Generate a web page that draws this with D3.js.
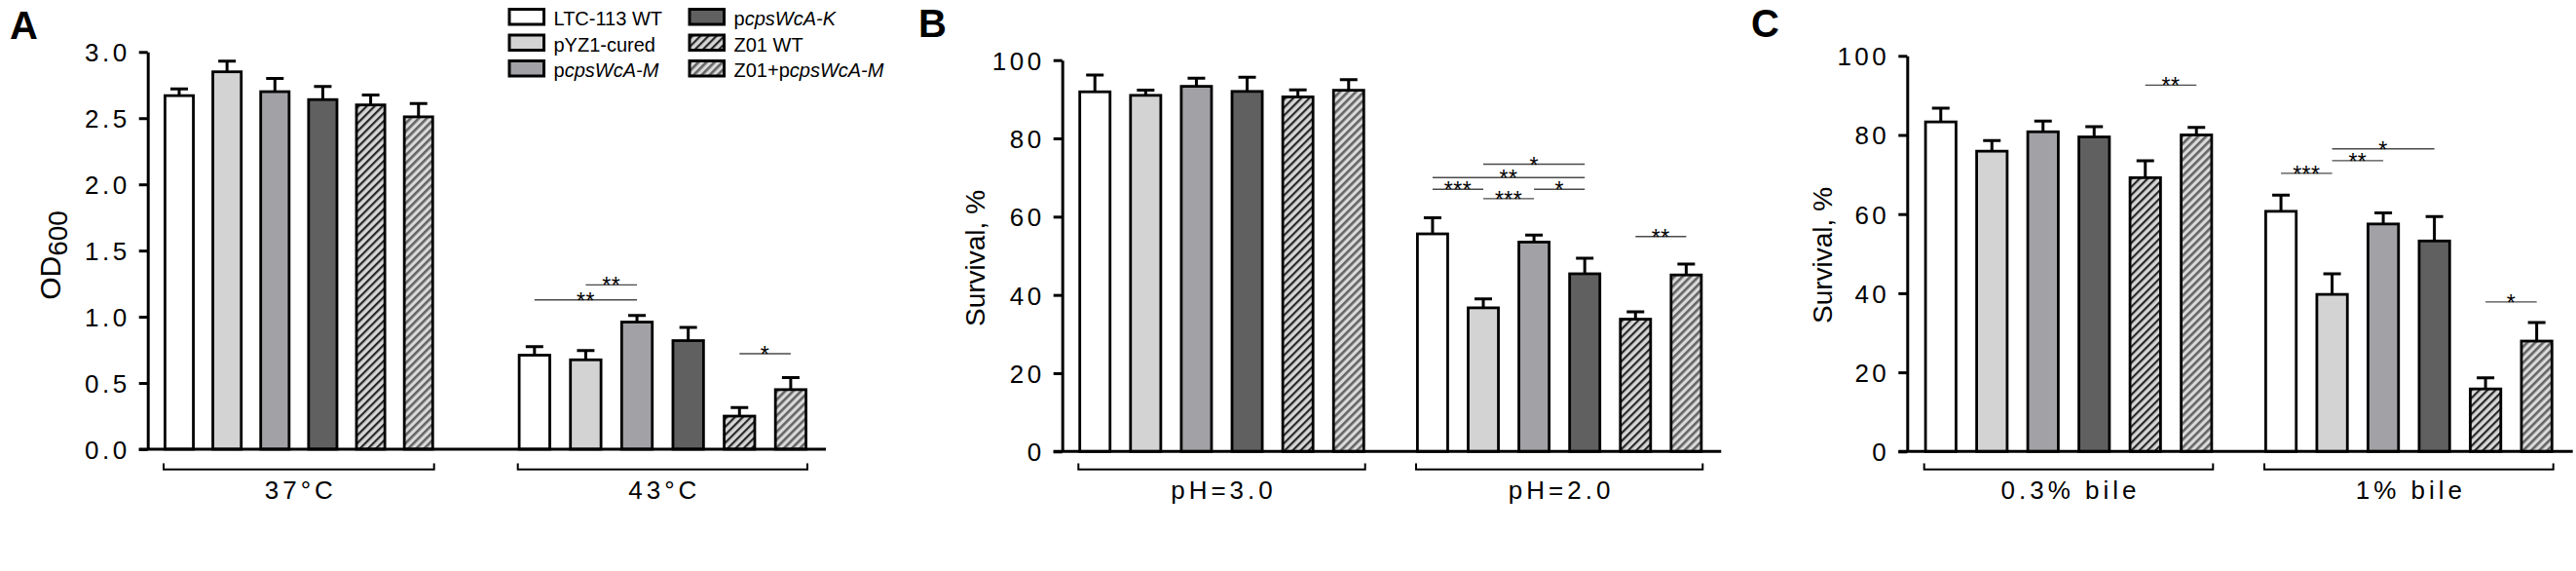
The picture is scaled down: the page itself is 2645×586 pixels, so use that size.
<!DOCTYPE html>
<html><head><meta charset="utf-8">
<script src="https://cdn.jsdelivr.net/npm/d3@7/dist/d3.min.js"></script>
<style>body{margin:0;background:#fff}svg{display:block}</style>
</head><body>
<svg id="chart" width="2645" height="586"></svg>
<script>
// ---------------- data ----------------
const strains = ["LTC-113 WT","pYZ1-cured","pcpsWcA-M","pcpsWcA-K","Z01 WT","Z01+pcpsWcA-M"];

const groupsA = ["37°C","43°C"];
const meanA = [[2.67,2.85,2.70,2.64,2.60,2.51],[0.71,0.675,0.96,0.82,0.25,0.45]];
const errA  = [[0.05,0.08,0.10,0.10,0.075,0.10],[0.065,0.07,0.05,0.10,0.065,0.09]];
const ticksA = [0,0.5,1.0,1.5,2.0,2.5,3.0];
// significance: [group, barFrom, barTo, level(y value), label]
const sigA = [[1,0,2,1.128,"**"],[1,1,2,1.241,"**"],[1,4,5,0.721,"*"]];

const groupsB = ["pH=3.0","pH=2.0"];
const meanB = [[91.9,91.0,93.3,92.0,90.6,92.3],[55.6,36.7,53.5,45.4,33.8,45.1]];
const errB  = [[4.3,1.3,2.1,3.6,1.8,2.7],[4.1,2.3,1.8,4.0,1.9,2.8]];
const ticksB = [0,20,40,60,80,100];
const sigB = [[1,1,3,73.4,"*"],[1,0,3,70.0,"**"],[1,0,1,67.0,"***"],[1,2,3,67.0,"*"],[1,1,2,64.6,"***"],[1,4,5,54.9,"**"]];

const groupsC = ["0.3% bile","1% bile"];
const meanC = [[83.3,75.9,80.8,79.5,69.2,80.0],[60.7,39.7,57.5,53.2,15.8,27.9]];
const errC  = [[3.5,2.7,2.7,2.6,4.3,1.9],[4.1,5.2,2.8,6.2,2.8,4.7]];
const ticksC = [0,20,40,60,80,100];
const sigC = [[0,4,5,92.6,"**"],[1,1,3,76.5,"*"],[1,1,2,73.5,"**"],[1,0,1,70.3,"***"],[1,4,5,37.8,"*"]];

// ---------------- styles / layout ----------------
const FONT = "'Liberation Sans', Arial, Helvetica, sans-serif";
const fills = ["#ffffff","#d3d3d3","#a2a2a6","#606060","url(#hatchDark)","url(#hatchGray)"];

const svg = d3.select("#chart").attr("font-family", FONT);
svg.append("rect").attr("width",2645).attr("height",586).attr("fill","#fff");

const defs = svg.append("defs");
function hatch(id, bg, fg, sw){
  const p = defs.append("pattern").attr("id",id).attr("patternUnits","userSpaceOnUse")
    .attr("width",5.8).attr("height",5.8).attr("patternTransform","rotate(45)");
  p.append("rect").attr("width",5.8).attr("height",5.8).attr("fill",bg);
  p.append("rect").attr("width",sw).attr("height",5.8).attr("fill",fg);
}
hatch("hatchDark","#d6d6d6","#262626",2.2);
hatch("hatchGray","#dadada","#646464",2.6);

const panels = [
  {letter:"A", lx:10, ly:40, groups:groupsA, mean:meanA, err:errA, sig:sigA, ticks:ticksA, fmt:d3.format(".1f"),
   domain:[0,3], yr:[461,53.3], axisX:151.7, axisEnd:848, gx:[[168,445.7],[531.7,829]], title:"OD", sub:"600", tx:62, ty:262},
  {letter:"B", lx:943, ly:38, groups:groupsB, mean:meanB, err:errB, sig:sigB, ticks:ticksB, fmt:d3.format("d"),
   domain:[0,100], yr:[463.3,61.7], axisX:1090.7, axisEnd:1767.3, gx:[[1107.3,1401.7],[1454,1748.3]], title:"Survival, %", tx:1011, ty:265},
  {letter:"C", lx:1798, ly:38, groups:groupsC, mean:meanC, err:errC, sig:sigC, ticks:ticksC, fmt:d3.format("d"),
   domain:[0,100], yr:[463.3,57.3], axisX:1958.3, axisEnd:2641.7, gx:[[1975.7,2272.3],[2325,2621.7]], title:"Survival, %", tx:1881, ty:262}
];

panels.forEach(P => {
  const g = svg.append("g");
  const y = d3.scaleLinear().domain(P.domain).range(P.yr);
  const xs = P.gx.map(r => d3.scaleBand().domain(d3.range(strains.length)).range(r).paddingInner(0.35).paddingOuter(0));

  // panel letter
  g.append("text").attr("x",P.lx).attr("y",P.ly).attr("font-size",40).attr("font-weight","bold").text(P.letter);

  // y axis
  const ax = g.append("g").attr("transform",`translate(${P.axisX},0)`)
    .call(d3.axisLeft(y).tickValues(P.ticks).tickFormat(P.fmt).tickSize(9).tickSizeOuter(0).tickPadding(9));
  ax.select(".domain").attr("stroke","#000").attr("stroke-width",3);
  ax.selectAll(".tick line").attr("stroke","#000").attr("stroke-width",3);
  ax.selectAll(".tick text").attr("font-family",FONT).attr("font-size",26).attr("letter-spacing",3.5).attr("fill","#000").attr("dy","0.36em");

  // bars
  P.groups.forEach((gn, gi) => {
    const x = xs[gi], bw = x.bandwidth();
    const data = P.mean[gi].map((v,i) => ({i, v, e:P.err[gi][i]}));
    // error bars
    g.selectAll(null).data(data).enter().append("path")
      .attr("d", d => {const cx = x(d.i)+bw/2; return `M${cx},${y(d.v)}V${y(d.v+d.e)}M${cx-9},${y(d.v+d.e)}H${cx+9}`;})
      .attr("stroke","#000").attr("stroke-width",3).attr("fill","none");
    g.selectAll(null).data(data).enter().append("rect")
      .attr("x", d => x(d.i)+1.4).attr("width", bw-2.8)
      .attr("y", d => y(d.v)).attr("height", d => y(0)-y(d.v))
      .attr("fill", d => fills[d.i]).attr("stroke","#000").attr("stroke-width",2.8);
    // group bracket
    const [x0,x1] = x.range();
    g.append("path").attr("d",`M${x0},475.5V481.7H${x1}V475.5`).attr("fill","none").attr("stroke","#000").attr("stroke-width",2);
    g.append("text").attr("x",(x0+x1)/2+2).attr("y",512).attr("text-anchor","middle")
      .attr("font-size",26).attr("letter-spacing",4).text(gn);
  });

  // x baseline
  g.append("line").attr("x1",P.axisX-9).attr("x2",P.axisEnd).attr("y1",y(0)).attr("y2",y(0))
    .attr("stroke","#000").attr("stroke-width",3);

  // significance
  P.sig.forEach(([gi,a,b,lv,lab]) => {
    const x = xs[gi], bw = x.bandwidth();
    const xa = x(a)+bw/2, xb = x(b)+bw/2, yy = y(lv);
    g.append("line").attr("x1",xa).attr("x2",xb).attr("y1",yy).attr("y2",yy).attr("stroke","#4a4a4a").attr("stroke-width",1.4);
    g.append("text").attr("x",(xa+xb)/2).attr("y",yy+9).attr("text-anchor","middle").attr("font-size",23).attr("letter-spacing",0.5).text(lab);
  });

  // y title
  const t = g.append("text").attr("transform",`translate(${P.tx},${P.ty}) rotate(-90)`).attr("text-anchor","middle");
  if (P.sub) {
    t.attr("font-size",30);
    t.append("tspan").text(P.title);
    t.append("tspan").attr("font-size",28).attr("dy",7).text(P.sub);
  } else {
    t.attr("font-size",28).text(P.title);
  }
});

// ---------------- legend ----------------
const legend = svg.append("g");
const lx = [521.5, 706.5], ly = [8, 34.5, 61];
strains.forEach((s,i) => {
  const col = i < 3 ? 0 : 1, row = i % 3;
  legend.append("rect").attr("x",lx[col]+1.5).attr("y",ly[row]+1.5).attr("width",35.5).attr("height",15.5)
    .attr("fill",fills[i]).attr("stroke","#000").attr("stroke-width",3);
  const t = legend.append("text").attr("x",lx[col]+47).attr("y",ly[row]+18).attr("font-size",20);
  const m = s.match(/^(.*?)(p)(cpsWcA-[A-Z])$/);
  if (m) {
    if (m[1]) t.append("tspan").text(m[1]);
    t.append("tspan").text(m[2]);
    t.append("tspan").attr("font-style","italic").text(m[3]);
  } else t.text(s);
});
</script>
</body></html>
